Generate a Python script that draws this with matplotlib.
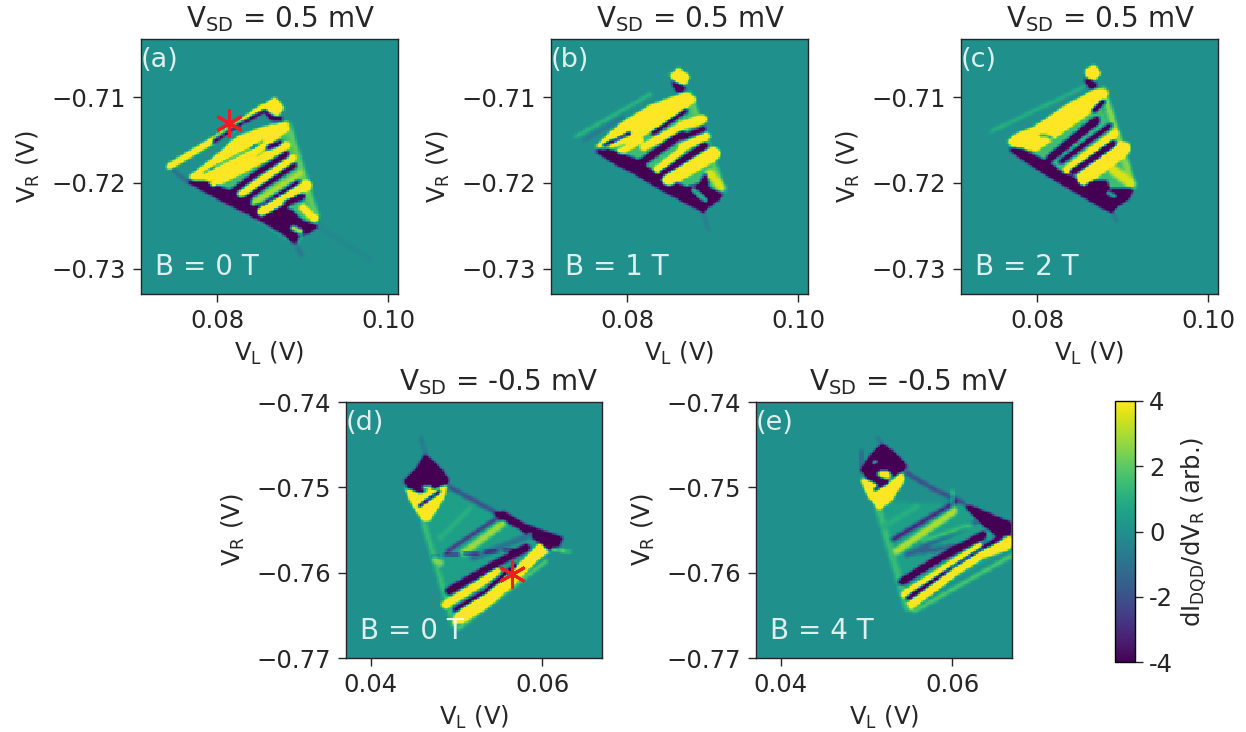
import numpy as np
import matplotlib
matplotlib.use('Agg')
import matplotlib.pyplot as plt
from matplotlib.path import Path
from matplotlib.ticker import FormatStrFormatter, FuncFormatter

W, H = 1246, 732
Y = 6.5   # saturated positive
P = -6.5  # saturated negative

titles = ['V$_{\\mathrm{SD}}$ = 0.5 mV'] * 3 + ['V$_{\\mathrm{SD}}$ = -0.5 mV'] * 2
letters = ['(a)', '(b)', '(c)', '(d)', '(e)']
fields = ['B = 0 T', 'B = 1 T', 'B = 2 T', 'B = 0 T', 'B = 4 T']

top_xlim = (0.07108, 0.10113)
top_ylim = (-0.73295, -0.70324)
bot_xlim = (0.03712, 0.0670)
bot_ylim = (-0.77, -0.74)
top_xticks = [0.08, 0.10]
top_yticks = [-0.73, -0.72, -0.71]
bot_xticks = [0.04, 0.06]
bot_yticks = [-0.77, -0.76, -0.75, -0.74]

star_a = (0.0814, -0.7130)
star_d = (0.0565, -0.7602)
cbar_ticks = [-4, -2, 0, 2, 4]
cbar_labels = ['-4', '-2', '0', '2', '4']

# features: (value, stripe width in mV or 0 for a filled outline, (V_L, V_R) points)
a_features = [
    (-1.2, 0.3, [(.0743, -.7181), (.0764, -.7199)]),
    (-0.8, 0.3, [(.0893, -.7274), (.0899, -.7286)]),
    (-0.2, 0.4, [(.0918, -.7251), (.0980, -.7290)]),
    (1.5, 0, [(.0766, -.7193), (.0881, -.7129), (.0916, -.7240), (.0893, -.7274)]),
    (2.0, 0.6, [(.0883, -.7133), (.0916, -.7240)]),
    (P, 0, [(.0764, -.7199), (.0776, -.7195), (.0799, -.7203), (.0827, -.7214), (.0854, -.7228), (.0881, -.7228),
            (.0889, -.7240), (.0918, -.7251), (.0908, -.7259), (.0895, -.7263), (.0893, -.7274), (.0881, -.7263),
            (.0854, -.7247), (.0827, -.7232), (.0795, -.7216)]),
    (Y, 0.45, [(.0743, -.7181), (.0815, -.7138), (.0854, -.7111)]),
    (Y, 0, [(.0856, -.7109), (.0867, -.7099), (.0878, -.7112), (.0871, -.7121), (.0860, -.7117)]),
    (P, 0.25, [(.0795, -.7152), (.0830, -.7129), (.0856, -.7115), (.0864, -.7125), (.0874, -.7125)]),
    (Y, 0, [(.0766, -.7193), (.0795, -.7171), (.0823, -.7146), (.0854, -.7135), (.0881, -.7129), (.0883, -.7138),
            (.0862, -.7154), (.0834, -.7177), (.0815, -.7187), (.0788, -.7197), (.0770, -.7197)]),
    (2.0, 0.15, [(.0815, -.7166), (.0854, -.7146)]),
    (P, 0.12, [(.0782, -.7189), (.0815, -.7172), (.0854, -.7152)]),
    (P, 0.4, [(.0860, -.7158), (.0875, -.7154)]),
    (Y, 0.55, [(.0795, -.7201), (.0827, -.7185), (.0881, -.7156)]),
    (P, 0.4, [(.0815, -.7212), (.0846, -.7189), (.0881, -.7166)]),
    (Y, 0.45, [(.0827, -.7214), (.0889, -.7171)]),
    (P, 0.35, [(.0832, -.7220), (.0891, -.7179)]),
    (3.0, 0.5, [(.0842, -.7224), (.0897, -.7189)]),
    (P, 0.3, [(.0854, -.7226), (.0895, -.7199)]),
    (Y, 0.75, [(.0852, -.7234), (.0905, -.7203)]),
    (Y, 0.5, [(.0901, -.7230), (.0914, -.7242)]),
    (P, 0.5, [(.0881, -.7224), (.0899, -.7216)]),
    (P, 0.6, [(.0885, -.7236), (.0905, -.7255)]),
    (3.0, 0.5, [(.0889, -.7253), (.0897, -.7257)]),
]

b_features = [
    (1.4, 0.3, [(.0739, -.7146), (.0827, -.7096)]),
    (-0.8, 0.3, [(.0749, -.7150), (.0795, -.7123)]),
    (-0.6, 0.3, [(.0889, -.7236), (.0895, -.7255)]),
    (1.5, 0, [(.0762, -.7158), (.0869, -.7094), (.0912, -.7208), (.0891, -.7236)]),
    (2.0, 0.5, [(.0873, -.7096), (.0912, -.7208)]),
    (Y, 0, [(.0850, -.7074), (.0860, -.7065), (.0873, -.7076), (.0867, -.7086), (.0856, -.7082)]),
    (P, 0, [(.0852, -.7080), (.0869, -.7088), (.0864, -.7094), (.0856, -.7092)]),
    (P, 0, [(.0760, -.7162), (.0776, -.7160), (.0807, -.7171), (.0834, -.7189), (.0869, -.7205), (.0885, -.7201),
            (.0893, -.7185), (.0895, -.7205), (.0912, -.7214), (.0905, -.7222), (.0893, -.7230), (.0891, -.7236),
            (.0881, -.7230), (.0846, -.7212), (.0807, -.7189), (.0784, -.7177)]),
    (Y, 0, [(.0762, -.7158), (.0791, -.7131), (.0827, -.7109), (.0869, -.7094), (.0881, -.7102), (.0866, -.7115),
            (.0842, -.7131), (.0815, -.7146), (.0795, -.7154), (.0772, -.7160)]),
    (P, 0.25, [(.0772, -.7156), (.0803, -.7142)]),
    (Y, 0.4, [(.0791, -.7164), (.0815, -.7150)]),
    (Y, 0.5, [(.0819, -.7158), (.0862, -.7135)]),
    (P, 0.3, [(.0830, -.7142), (.0869, -.7115)]),
    (P, 0.55, [(.0815, -.7177), (.0864, -.7143)]),
    (Y, 0.6, [(.0864, -.7133), (.0889, -.7125)]),
    (P, 0.4, [(.0864, -.7147), (.0889, -.7137)]),
    (Y, 0.5, [(.0864, -.7158), (.0893, -.7146)]),
    (Y, 0.45, [(.0834, -.7185), (.0864, -.7162)]),
    (P, 0.5, [(.0842, -.7189), (.0891, -.7156)]),
    (Y, 1.0, [(.0848, -.7197), (.0901, -.7166)]),
    (3.5, 0.7, [(.0897, -.7189), (.0910, -.7205)]),
    (1.0, 0.5, [(.0877, -.7208), (.0891, -.7220)]),
]

c_features = [
    (1.2, 0.3, [(.0745, -.7140), (.0854, -.7088)]),
    (-0.8, 0.3, [(.0889, -.7236), (.0893, -.7245)]),
    (1.5, 0, [(.0764, -.7152), (.0869, -.7090), (.0912, -.7208), (.0889, -.7236)]),
    (2.5, 0.6, [(.0877, -.7092), (.0912, -.7203)]),
    (Y, 0, [(.0856, -.7069), (.0866, -.7061), (.0874, -.7072), (.0867, -.7080), (.0858, -.7076)]),
    (P, 0, [(.0854, -.7078), (.0869, -.7082), (.0869, -.7090), (.0862, -.7090)]),
    (P, 0, [(.0764, -.7160), (.0780, -.7160), (.0815, -.7177), (.0830, -.7189), (.0854, -.7197), (.0881, -.7197),
            (.0885, -.7208), (.0912, -.7208), (.0908, -.7218), (.0891, -.7230), (.0889, -.7236), (.0877, -.7230),
            (.0846, -.7212), (.0807, -.7189), (.0780, -.7171)]),
    (Y, 0, [(.0764, -.7152), (.0776, -.7142), (.0795, -.7136), (.0830, -.7111), (.0869, -.7090), (.0883, -.7094),
            (.0873, -.7109), (.0854, -.7123), (.0827, -.7142), (.0799, -.7162), (.0768, -.7156)]),
    (1.0, 0.4, [(.0803, -.7144), (.0815, -.7146)]),
    (P, 0.6, [(.0815, -.7171), (.0869, -.7127)]),
    (P, 0.35, [(.0828, -.7175), (.0885, -.7133)]),
    (Y, 0.5, [(.0834, -.7185), (.0891, -.7142)]),
    (P, 0.5, [(.0842, -.7187), (.0889, -.7154)]),
    (Y, 1.1, [(.0854, -.7195), (.0901, -.7160)]),
    (3.5, 0.8, [(.0889, -.7185), (.0910, -.7201)]),
    (P, 0.35, [(.0866, -.7115), (.0877, -.7105)]),
    (1.0, 0.4, [(.0883, -.7212), (.0891, -.7216)]),
]

d_features = [
    (-0.8, 0.3, [(.0458, -.7441), (.0465, -.7465)]),
    (0.5, 0, [(.0491, -.7500), (.0600, -.7560), (.0497, -.7660), (.0461, -.7540)]),
    (1.4, 0.5, [(.0461, -.7540), (.0497, -.7662)]),
    (1.8, 0.4, [(.0502, -.7666), (.0605, -.7587)]),
    (P, 0, [(.0438, -.7493), (.0452, -.7479), (.0463, -.7461), (.0475, -.7471), (.0491, -.7489), (.0491, -.7495),
            (.0473, -.7502), (.0458, -.7506), (.0444, -.7500)]),
    (3.0, 0.5, [(.0463, -.7500), (.0469, -.7501)]),
    (Y, 0, [(.0440, -.7501), (.0458, -.7508), (.0489, -.7496), (.0485, -.7512), (.0469, -.7538), (.0460, -.7538),
            (.0448, -.7520)]),
    (P, 0.25, [(.0456, -.7522), (.0481, -.7504)]),
    (-2.2, 0.35, [(.0493, -.7500), (.0547, -.7530)]),
    (P, 0, [(.0545, -.7530), (.0555, -.7528), (.0582, -.7544), (.0625, -.7559), (.0621, -.7569), (.0605, -.7575),
            (.0594, -.7563), (.0570, -.7546), (.0547, -.7536)]),
    (1.0, 0.5, [(.0481, -.7559), (.0516, -.7524)]),
    (-3.5, 0.25, [(.0489, -.7575), (.0551, -.7534)]),
    (2.8, 0.6, [(.0508, -.7577), (.0555, -.7542)]),
    (-1.0, 0.5, [(.0520, -.7583), (.0586, -.7556)]),
    (P, 0.1, [(.0473, -.7581), (.0582, -.7572)]),
    (2.5, 0.6, [(.0475, -.7585), (.0481, -.7589)]),
    (3.0, 0.2, [(.0613, -.7572), (.0633, -.7576)]),
    (P, 0.55, [(.0491, -.7622), (.0551, -.7587), (.0582, -.7571)]),
    (Y, 0.55, [(.0487, -.7638), (.0531, -.7611), (.0547, -.7599)]),
    (Y, 0, [(.0496, -.7662), (.0498, -.7650), (.0535, -.7621), (.0574, -.7589), (.0598, -.7565), (.0609, -.7575),
            (.0598, -.7583), (.0566, -.7615), (.0535, -.7642), (.0508, -.7658)]),
    (P, 0.3, [(.0498, -.7644), (.0535, -.7622), (.0570, -.7591)]),
]

e_features = [
    (-0.8, 0.3, [(.0512, -.7441), (.0518, -.7449)]),
    (0.5, 0, [(.0528, -.7516), (.0613, -.7520), (.0670, -.7571), (.0547, -.7640), (.0514, -.7526)]),
    (1.4, 0.6, [(.0514, -.7526), (.0547, -.7642)]),
    (1.8, 0.4, [(.0555, -.7646), (.0668, -.7581)]),
    (P, 0, [(.0493, -.7479), (.0502, -.7465), (.0518, -.7448), (.0533, -.7459), (.0547, -.7475), (.0541, -.7481),
            (.0526, -.7489), (.0514, -.7498), (.0500, -.7489)]),
    (Y, 0.6, [(.0517, -.7484), (.0524, -.7485)]),
    (2.0, 0.3, [(.0508, -.7471), (.0511, -.7469)]),
    (Y, 0, [(.0493, -.7489), (.0508, -.7494), (.0520, -.7500), (.0541, -.7482), (.0544, -.7491), (.0528, -.7516),
            (.0514, -.7526), (.0500, -.7508)]),
    (P, 0.25, [(.0510, -.7502), (.0524, -.7493)]),
    (-2.2, 0.35, [(.0547, -.7483), (.0582, -.7504), (.0613, -.7518)]),
    (P, 0, [(.0613, -.7520), (.0623, -.7522), (.0670, -.7542), (.0670, -.7556), (.0652, -.7557), (.0636, -.7544)]),
    (1.0, 0.5, [(.0520, -.7546), (.0559, -.7522)]),
    (-3.5, 0.35, [(.0531, -.7561), (.0605, -.7516)]),
    (3.0, 0.6, [(.0535, -.7575), (.0602, -.7528)]),
    (-1.5, 0.4, [(.0547, -.7579), (.0629, -.7540)]),
    (1.5, 0.4, [(.0566, -.7563), (.0621, -.7544)]),
    (-1.5, 0.4, [(.0551, -.7577), (.0636, -.7565)]),
    (P, 0.55, [(.0541, -.7611), (.0582, -.7585), (.0636, -.7556)]),
    (Y, 0.4, [(.0543, -.7626), (.0590, -.7595), (.0633, -.7567)]),
    (P, 0.35, [(.0549, -.7630), (.0594, -.7599), (.0656, -.7559)]),
    (Y, 0, [(.0547, -.7636), (.0555, -.7630), (.0601, -.7595), (.0636, -.7573), (.0670, -.7556), (.0670, -.7571),
            (.0636, -.7583), (.0605, -.7603), (.0570, -.7630), (.0551, -.7644)]),
    (-3.0, 0.1, [(.0493, -.7457), (.0493, -.7481)]),
    (3.5, 0.1, [(.0600, -.7504), (.0600, -.7524)]),
]

all_features = [a_features, b_features, c_features, d_features, e_features]

# axes boxes in pixels: left, right, top, bottom
boxes = [(141, 398, 39, 294), (551, 808, 39, 294), (961, 1218, 39, 294),
         (346, 602, 402, 658), (756, 1012, 402, 658)]


def rasterize(features, xlim, ylim, n=160):
    xs = np.linspace(xlim[0], xlim[1], n)
    ys = np.linspace(ylim[0], ylim[1], n)
    gx, gy = np.meshgrid(xs, ys)
    z = np.zeros_like(gx)
    pts = np.column_stack([gx.ravel(), gy.ravel()])
    for val, width, points in features:
        points = np.array(points)
        if width == 0:
            mask = Path(points).contains_points(pts).reshape(gx.shape)
        else:
            mask = np.zeros_like(gx, dtype=bool)
            for p, q in zip(points[:-1], points[1:]):
                d = q - p
                t = np.clip(((gx - p[0]) * d[0] + (gy - p[1]) * d[1]) / (d @ d), 0, 1)
                dist = np.hypot(gx - p[0] - t * d[0], gy - p[1] - t * d[1])
                mask |= dist < width * 0.72e-3
        z[mask] = val
    # light smoothing so stripe edges pass through the mid colours
    padded = np.pad(z, 1, mode='edge')
    total = sum(padded[1 + i:padded.shape[0] - 1 + i, 1 + j:padded.shape[1] - 1 + j]
                for i in (-1, 0, 1) for j in (-1, 0, 1))
    return np.clip(total / 9, -4, 4)


fig = plt.figure(figsize=(W / 100, H / 100), dpi=100)
tick_size = 17.5
ink = '#262626'

for i, box in enumerate(boxes):
    left, right, top, bottom = box
    ax = fig.add_axes([left / W, 1 - bottom / H, (right - left) / W, (bottom - top) / H])
    xlim, ylim = (top_xlim, top_ylim) if i < 3 else (bot_xlim, bot_ylim)
    z = rasterize(all_features[i], xlim, ylim)
    im = ax.imshow(z, origin='lower', extent=[xlim[0], xlim[1], ylim[0], ylim[1]], aspect='auto',
                   cmap='viridis', vmin=-4, vmax=4, interpolation='nearest')
    ax.set_xlim(xlim)
    ax.set_ylim(ylim)
    ax.set_xticks(top_xticks if i < 3 else bot_xticks)
    ax.set_yticks(top_yticks if i < 3 else bot_yticks)
    ax.xaxis.set_major_formatter(FormatStrFormatter('%.2f'))
    ax.yaxis.set_major_formatter(FuncFormatter(lambda v, p: f'\u2212{abs(v):.2f}'))
    ax.tick_params(labelsize=tick_size, length=5.5, width=1, colors=ink, pad=5)
    ax.set_xlabel('V$_{\\mathrm{L}}$ (V)', fontsize=tick_size, color=ink, labelpad=5)
    ax.set_ylabel('V$_{\\mathrm{R}}$ (V)', fontsize=tick_size, color=ink, labelpad=7)
    ax.set_title(titles[i], fontsize=20, color=ink, pad=8.5, x=0.541 if i < 3 else 0.594)
    ax.text(0.0, 0.918, letters[i], transform=ax.transAxes, color='white', alpha=0.85, fontsize=19.5,
            va='center', ha='left')
    ax.text(0.055, 0.106, fields[i], transform=ax.transAxes, color='white', alpha=0.85, fontsize=20,
            va='center', ha='left')
    for spine in ax.spines.values():
        spine.set_linewidth(1)
        spine.set_color(ink)
    if i == 0:
        ax.plot(*star_a, marker=(6, 2, 0), color='#ee1c25', markersize=20, markeredgewidth=2.2, ls='none')
    if i == 3:
        ax.plot(*star_d, marker=(6, 2, 0), color='#ee1c25', markersize=20, markeredgewidth=2.2, ls='none')

cax = fig.add_axes([1115 / W, 1 - 662 / H, 20 / W, 261 / H])
cb = fig.colorbar(im, cax=cax, ticks=cbar_ticks)
cb.ax.set_yticklabels(cbar_labels)
cb.ax.tick_params(labelsize=tick_size, length=6, width=1, colors=ink, pad=4)
cb.outline.set_linewidth(1)
cb.set_label('dI$_{\\mathrm{DQD}}$/dV$_{\\mathrm{R}}$ (arb.)', fontsize=tick_size, color=ink, labelpad=5)

fig.savefig('out.png', dpi=100, facecolor='white')
